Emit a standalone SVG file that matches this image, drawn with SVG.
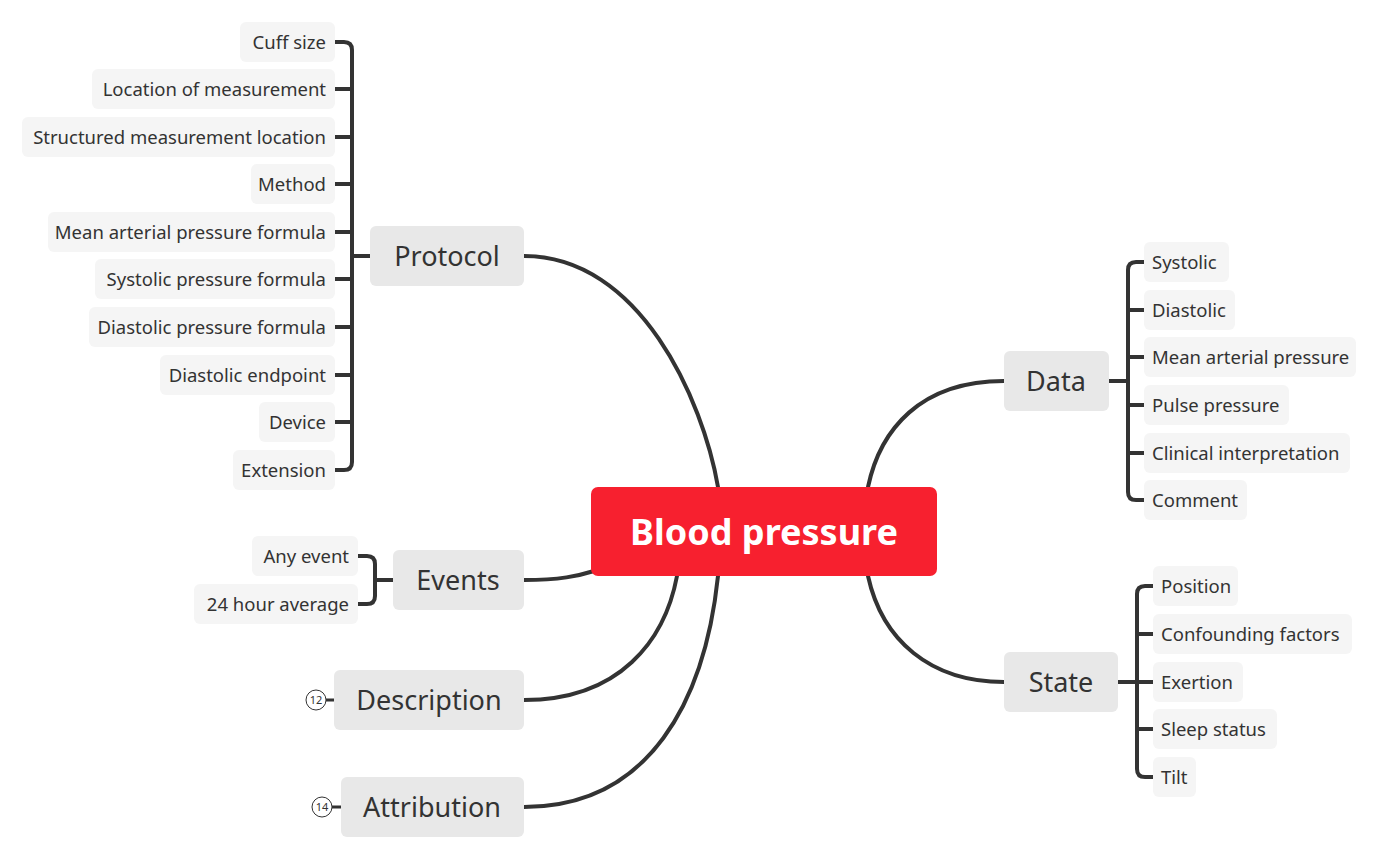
<svg xmlns="http://www.w3.org/2000/svg" width="1379" height="860" viewBox="0 0 1379 860">
<style>
.ln{fill:none;stroke:#333;stroke-width:4;stroke-linecap:round}
.br{fill:none;stroke:#333;stroke-width:4}
.leaf{fill:#F5F5F5}
.main{fill:#E8E8E8}
.lt{font-family:"Noto Sans","Open Sans",sans-serif;font-size:18.5px;fill:#333}
.mt{font-family:"Noto Sans","Open Sans",sans-serif;font-size:27px;fill:#333;text-anchor:middle}
.rt{font-family:"Noto Sans","Open Sans",sans-serif;font-size:36px;font-weight:bold;fill:#fff;text-anchor:middle}
.end{text-anchor:end}
.cnt{font-family:"Noto Sans","Open Sans",sans-serif;font-size:11px;fill:#333;text-anchor:middle}
</style>
<rect width="1379" height="860" fill="#fff"/>
<g id="connectors">
<path class="ln" d="M524,256 C640,256 703,400 718,487"/>
<path class="ln" d="M1004,381 C920,381 880,430 868,487"/>
<path class="ln" d="M868,576 C882,640 930,682 1004,682"/>
<path class="ln" d="M524,580 C560,580 578,576 594,571"/>
<path class="ln" d="M524,700 C620,700 665,640 677,576"/>
<path class="ln" d="M524,807 C650,807 705,700 718,576"/>
<path class="br" d="M335,42 H344 Q352,42 352,50 V462 Q352,470 344,470 H335 M335,89 H352 M335,137 H352 M335,184 H352 M335,232 H352 M335,279 H352 M335,327 H352 M335,375 H352 M335,422 H352 M352,256 H370"/>
<path class="br" d="M358,556 H367 Q375,556 375,564 V596 Q375,604 367,604 H358 M375,580 H393"/>
<path class="br" d="M1144,262 H1136 Q1128,262 1128,270 V492 Q1128,500 1136,500 H1144 M1128,310 H1144 M1128,357 H1144 M1128,405 H1144 M1128,453 H1144 M1109,381 H1128"/>
<path class="br" d="M1153,586 H1145 Q1137,586 1137,594 V769 Q1137,777 1145,777 H1153 M1137,634 H1153 M1137,682 H1153 M1137,729 H1153 M1118,682 H1137"/>
<path class="br" d="M326,700 H334 M332,807 H341" style="stroke-width:3"/>
</g>
<g id="root">
<rect x="591" y="487" width="346" height="89" rx="7" fill="#F7202F"/>
<text class="rt" x="764" y="545">Blood pressure</text>
</g>
<g id="protocol"><rect class="main" x="370" y="226" width="154" height="60" rx="6"/><text class="mt" x="447" y="266">Protocol</text></g>
<g id="events"><rect class="main" x="393" y="550" width="131" height="60" rx="6"/><text class="mt" x="458" y="590">Events</text></g>
<g id="description"><rect class="main" x="334" y="670" width="190" height="60" rx="6"/><text class="mt" x="429" y="710">Description</text></g>
<g id="description-count"><circle cx="316" cy="700" r="10" fill="#fff" stroke="#333" stroke-width="1"/><text class="cnt" x="316" y="704">12</text></g>
<g id="attribution"><rect class="main" x="341" y="777" width="183" height="60" rx="6"/><text class="mt" x="432" y="817">Attribution</text></g>
<g id="attribution-count"><circle cx="322" cy="807" r="10" fill="#fff" stroke="#333" stroke-width="1"/><text class="cnt" x="322" y="811">14</text></g>
<g id="data"><rect class="main" x="1004" y="351" width="105" height="60" rx="6"/><text class="mt" x="1056" y="391">Data</text></g>
<g id="state"><rect class="main" x="1004" y="652" width="114" height="60" rx="6"/><text class="mt" x="1061" y="692">State</text></g>
<g id="cuff-size"><rect class="leaf" x="240" y="22" width="95" height="40" rx="6"/><text class="lt end" x="326" y="49">Cuff size</text></g>
<g id="location"><rect class="leaf" x="92" y="69" width="243" height="40" rx="6"/><text class="lt end" x="326" y="96">Location of measurement</text></g>
<g id="structured-location"><rect class="leaf" x="22" y="117" width="313" height="40" rx="6"/><text class="lt end" x="326" y="144">Structured measurement location</text></g>
<g id="method"><rect class="leaf" x="251" y="164" width="84" height="40" rx="6"/><text class="lt end" x="326" y="191">Method</text></g>
<g id="map-formula"><rect class="leaf" x="48" y="212" width="287" height="40" rx="6"/><text class="lt end" x="326" y="239">Mean arterial pressure formula</text></g>
<g id="sys-formula"><rect class="leaf" x="95" y="259" width="240" height="40" rx="6"/><text class="lt end" x="326" y="286">Systolic pressure formula</text></g>
<g id="dia-formula"><rect class="leaf" x="89" y="307" width="246" height="40" rx="6"/><text class="lt end" x="326" y="334">Diastolic pressure formula</text></g>
<g id="dia-endpoint"><rect class="leaf" x="160" y="355" width="175" height="40" rx="6"/><text class="lt end" x="326" y="382">Diastolic endpoint</text></g>
<g id="device"><rect class="leaf" x="259" y="402" width="76" height="40" rx="6"/><text class="lt end" x="326" y="429">Device</text></g>
<g id="extension"><rect class="leaf" x="233" y="450" width="102" height="40" rx="6"/><text class="lt end" x="326" y="477">Extension</text></g>
<g id="any-event"><rect class="leaf" x="252" y="536" width="106" height="40" rx="6"/><text class="lt end" x="349" y="563">Any event</text></g>
<g id="avg-24h"><rect class="leaf" x="194" y="584" width="164" height="40" rx="6"/><text class="lt end" x="349" y="611">24 hour average</text></g>
<g id="systolic"><rect class="leaf" x="1144" y="242" width="85" height="40" rx="6"/><text class="lt" x="1152" y="269">Systolic</text></g>
<g id="diastolic"><rect class="leaf" x="1144" y="290" width="91" height="40" rx="6"/><text class="lt" x="1152" y="317">Diastolic</text></g>
<g id="map"><rect class="leaf" x="1144" y="337" width="212" height="40" rx="6"/><text class="lt" x="1152" y="364">Mean arterial pressure</text></g>
<g id="pulse"><rect class="leaf" x="1144" y="385" width="145" height="40" rx="6"/><text class="lt" x="1152" y="412">Pulse pressure</text></g>
<g id="clinical"><rect class="leaf" x="1144" y="433" width="206" height="40" rx="6"/><text class="lt" x="1152" y="460">Clinical interpretation</text></g>
<g id="comment"><rect class="leaf" x="1144" y="480" width="103" height="40" rx="6"/><text class="lt" x="1152" y="507">Comment</text></g>
<g id="position"><rect class="leaf" x="1153" y="566" width="85" height="40" rx="6"/><text class="lt" x="1161" y="593">Position</text></g>
<g id="confounding"><rect class="leaf" x="1153" y="614" width="199" height="40" rx="6"/><text class="lt" x="1161" y="641">Confounding factors</text></g>
<g id="exertion"><rect class="leaf" x="1153" y="662" width="90" height="40" rx="6"/><text class="lt" x="1161" y="689">Exertion</text></g>
<g id="sleep"><rect class="leaf" x="1153" y="709" width="124" height="40" rx="6"/><text class="lt" x="1161" y="736">Sleep status</text></g>
<g id="tilt"><rect class="leaf" x="1153" y="757" width="43" height="40" rx="6"/><text class="lt" x="1161" y="784">Tilt</text></g>
</svg>
